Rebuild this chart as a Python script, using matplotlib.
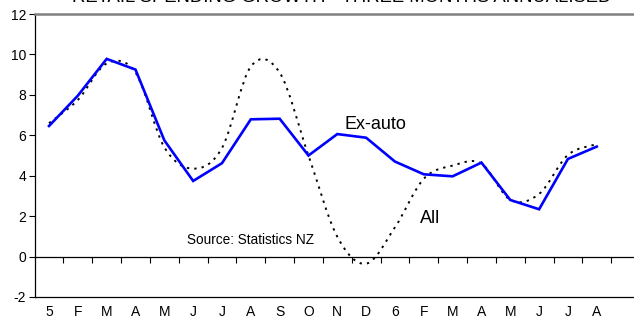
import matplotlib
matplotlib.use("Agg")
import matplotlib.pyplot as plt
from matplotlib.path import Path
from matplotlib.patches import PathPatch
import numpy as np

plt.rcParams['font.family'] = ['Liberation Sans', 'DejaVu Sans']

categories = ["5", "F", "M", "A", "M", "J", "J", "A", "S", "O", "N", "D",
              "6", "F", "M", "A", "M", "J", "J", "A", ""]
ex_auto = [6.46, 7.96, 9.78, 9.25, 5.75, 3.74, 4.62, 6.79, 6.82, 5.0,
           6.06, 5.88, 4.7, 4.07, 3.97, 4.65, 2.8, 2.34, 4.83, 5.44]
all_series = [6.6, 7.75, 9.55, 9.1, 5.41, 4.35, 5.37, 9.4, 9.1, 5.0,
              0.98, -0.35, 1.45, 3.85, 4.5, 4.6, 2.8, 3.1, 5.03, 5.56]
yticks = [-2, 0, 2, 4, 6, 8, 10, 12]
title = "RETAIL SPENDING GROWTH - THREE MONTHS ANNUALISED"

fig = plt.figure(figsize=(6.34, 3.22), dpi=100)
ax = fig.add_axes([34.6 / 634, 25 / 322, (640 - 34.6) / 634, 283 / 322])

n = len(categories)
x = np.arange(len(ex_auto))

# Ex-auto: straight segments
ax.plot(x, ex_auto, color='#0000FF', lw=1.9, solid_joinstyle='miter', zorder=4)

# All: smoothed (Excel-style) curve through the data points
pts = np.column_stack([x, all_series]).astype(float)
verts = [tuple(pts[0])]
codes = [Path.MOVETO]
for i in range(len(pts) - 1):
    p0 = pts[i - 1] if i > 0 else pts[i]
    p1 = pts[i]
    p2 = pts[i + 1]
    p3 = pts[i + 2] if i + 2 < len(pts) else pts[i + 1]
    c1 = p1 + (p2 - p0) / 6.0
    c2 = p2 - (p3 - p1) / 6.0
    verts += [tuple(c1), tuple(c2), tuple(p2)]
    codes += [Path.CURVE4] * 3
patch = PathPatch(Path(verts, codes), fill=False, edgecolor='black', lw=1.4,
                  linestyle=(0, (1.2, 2.6)), zorder=3)
ax.add_patch(patch)

ax.set_xlim(-0.5, n - 0.5)
ax.set_ylim(-2, 12)

ax.set_yticks(yticks)
ax.set_yticklabels([str(v) for v in yticks], fontsize=10)
ax.tick_params(axis='y', direction='out', length=4, width=0.8, pad=2)

ax.set_xticks(np.arange(n))
ax.set_xticklabels(categories, fontsize=10)
ax.tick_params(axis='x', length=0, pad=6)

ax.spines['right'].set_visible(False)
ax.spines['top'].set_color('#808080')
ax.spines['top'].set_linewidth(1.8)
ax.spines['left'].set_linewidth(0.9)
ax.spines['bottom'].set_linewidth(0.9)

# zero line with tick marks between categories
sec = ax.secondary_xaxis(2 / 14)
sec.set_xticks(np.arange(n) + 0.5)
sec.set_xticklabels([])
sec.tick_params(direction='out', length=4, width=0.8)
sec.spines['bottom'].set_linewidth(0.9)

ax.text(10.26, 6.55, "Ex-auto", fontsize=13, ha='left', va='center')
ax.text(12.86, 1.9, "All", fontsize=13, ha='left', va='center')
ax.text(4.78, 0.8, "Source: Statistics NZ", fontsize=9.8, ha='left', va='center')

fig.text(342 / 634, 1 - 2.5 / 322, title, fontsize=13.3, ha='center', va='baseline')

fig.savefig("out.png", dpi=100)
